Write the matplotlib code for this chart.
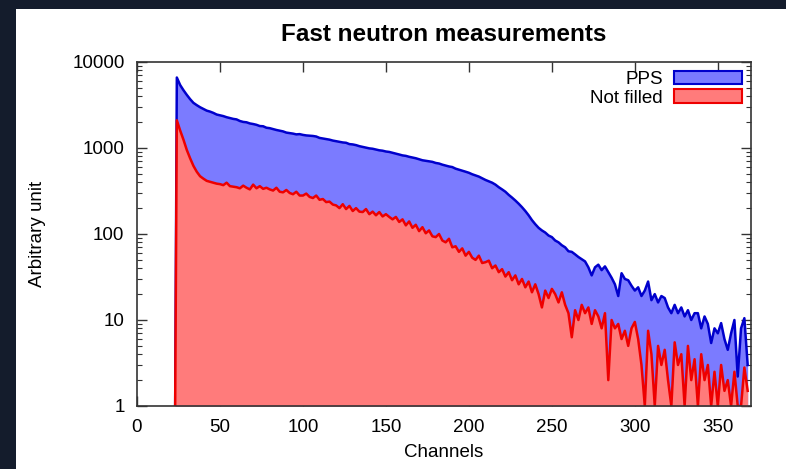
import matplotlib
matplotlib.use("Agg")
import matplotlib.pyplot as plt
from matplotlib.patches import Patch, Rectangle
from matplotlib.ticker import FixedLocator, LogLocator, NullFormatter
import numpy as np

# channel axis: 23 is the empty channel just before the spectra start
channels = [23] + list(range(24, 369, 2))

# PPS spectrum (counts, log scale, 1 = empty)
pps = [1,
       6600, 5400, 4700, 4150, 3700, 3350, 3150, 2980, 2850, 2720,
       2650, 2560, 2450, 2400, 2350, 2280, 2230, 2180, 2150, 2060,
       2010, 1990, 1930, 1900, 1860, 1800, 1790, 1720, 1700, 1660,
       1620, 1590, 1560, 1510, 1490, 1470, 1440, 1450, 1420, 1400,
       1390, 1380, 1360, 1310, 1290, 1270, 1250, 1220, 1200, 1180,
       1160, 1150, 1110, 1100, 1080, 1050, 1030, 1010, 990, 980,
       960, 940, 930, 910, 900, 880, 860, 840, 820, 810,
       790, 775, 760, 740, 720, 710, 700, 690, 670, 660,
       640, 625, 610, 600, 575, 560, 545, 530, 515, 495,
       480, 465, 445, 425, 410, 395, 375, 350, 330, 310,
       285, 265, 245, 225, 205, 185, 165, 145, 130, 118,
       110, 104, 96, 92, 84, 80, 74, 70, 63, 62,
       58, 54, 51, 48, 41, 33, 41, 44, 38, 42,
       36, 31, 26, 19, 35, 30, 29, 25, 22, 24,
       19, 22, 28, 17, 20, 16, 19, 18, 14, 12,
       15, 12, 14, 11, 13, 10, 12, 12, 8, 11,
       9, 5.4, 8, 7, 9.2, 6, 4.5, 7, 10, 2.2,
       8, 10.5, 3]

# Not filled spectrum
not_filled = [1,
              2100, 1600, 1250, 950, 760, 620, 530, 470, 440, 415,
              405, 395, 385, 380, 370, 395, 360, 355, 350, 340,
              365, 345, 330, 375, 340, 360, 335, 345, 330, 320,
              345, 310, 305, 325, 300, 290, 310, 280, 280, 295,
              270, 262, 280, 250, 255, 235, 238, 220, 215, 200,
              222, 195, 212, 185, 200, 182, 180, 195, 170, 182,
              165, 180, 160, 170, 158, 148, 158, 138, 148, 126,
              140, 118, 128, 108, 120, 102, 110, 94, 92, 100,
              84, 80, 88, 70, 72, 62, 68, 56, 62, 53,
              50, 56, 46, 47, 49, 40, 43, 36, 39, 32,
              36, 29, 33, 26, 30, 24, 28, 21, 26, 20,
              14, 22, 18, 23, 20, 16, 21, 15, 12, 6.3,
              13, 10, 15, 12, 14, 9, 13, 11, 8, 12,
              2, 10, 8, 9, 6, 7.5, 5, 8, 9.5, 6,
              3, 1, 7.5, 4, 1, 5, 3, 4.5, 2, 1,
              5.5, 3, 4, 1, 5, 2, 3.5, 1, 4, 2,
              3, 1, 2.5, 1, 3, 1.5, 2, 1, 2.5, 1,
              1, 2.8, 1.5]

x_ticks = [0, 50, 100, 150, 200, 250, 300, 350]
y_ticks = [1, 10, 100, 1000, 10000]

plt.rcParams['font.family'] = ['Liberation Sans', 'DejaVu Sans']

fig = plt.figure(figsize=(7.86, 4.69), dpi=100, facecolor='#141c2c')
# white page on the dark slide background
fig.patches.append(Rectangle((16 / 786, 0), 1, 1 - 9 / 469, transform=fig.transFigure,
                             facecolor='white', edgecolor='none', zorder=-5))
ax = fig.add_axes([137 / 786, 1 - 406 / 469, 614 / 786, 344 / 469])

blue_fill, blue_line = '#7b7bff', '#0000cc'
red_fill, red_line = '#ff7b7b', '#ee0000'

ax.fill_between(channels, 1, pps, color=blue_fill, lw=0, zorder=1)
ax.plot(channels, pps, color=blue_line, lw=1.8, zorder=2)
ax.fill_between(channels, 1, not_filled, color=red_fill, lw=0, zorder=3)
ax.plot(channels, not_filled, color=red_line, lw=1.8, zorder=4)

ax.set_yscale('log')
ax.set_xlim(0, 370)
ax.set_ylim(1, 10000)
ax.xaxis.set_major_locator(FixedLocator(x_ticks))
ax.yaxis.set_major_locator(FixedLocator(y_ticks))
ax.set_yticklabels([str(v) for v in y_ticks])
ax.yaxis.set_minor_locator(LogLocator(base=10, subs=np.arange(2, 10)))
ax.yaxis.set_minor_formatter(NullFormatter())
ax.tick_params(which='both', direction='in', top=True, right=True, labelsize=13.5,
               color='#333333')
ax.tick_params(which='major', length=7, width=1, pad=9)
ax.tick_params(which='minor', length=3.5, width=0.8)
for s in ax.spines.values():
    s.set_color('#333333')
    s.set_linewidth(1.2)
    s.set_zorder(6)

ax.set_xlabel('Channels', fontsize=13.5, labelpad=6)
ax.set_ylabel('Arbitrary unit', fontsize=13.5, labelpad=19)
ax.set_title('Fast neutron measurements', fontsize=17.5, fontweight='bold', pad=15)

handles = [Patch(facecolor=blue_fill, edgecolor=blue_line, lw=1.5),
           Patch(facecolor=red_fill, edgecolor=red_line, lw=1.5)]
ax.legend(handles, ['PPS', 'Not filled'], loc='upper right', markerfirst=False,
          frameon=False, fontsize=13.5, handlelength=3.6, handleheight=0.7,
          labelspacing=0.05, handletextpad=0.6, borderaxespad=0.3, borderpad=0.2)

fig.savefig('out.png', dpi=100, facecolor=fig.get_facecolor())
